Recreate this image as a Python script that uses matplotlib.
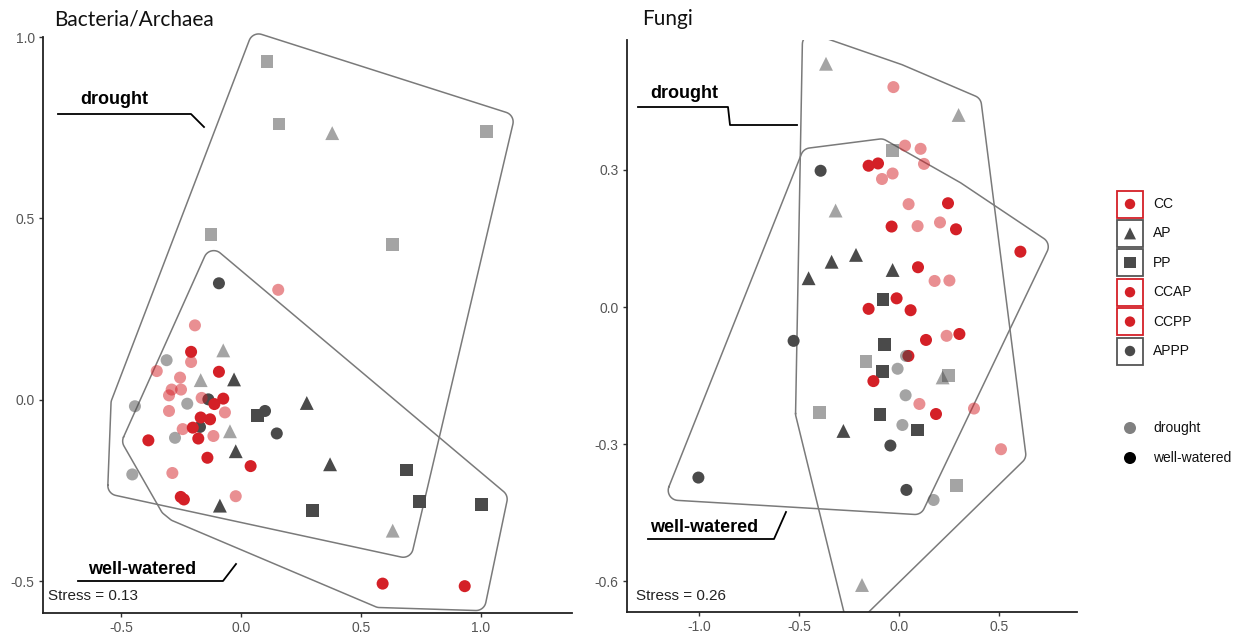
import numpy as np
import matplotlib
matplotlib.use('Agg')
import matplotlib.pyplot as plt
from matplotlib.patches import Rectangle

# NMDS scores, (x, y) per sample
# Bacteria/Archaea
bac_cc_ww = [(-0.208, 0.132), (-0.092, 0.077), (-0.074, 0.003), (-0.111, -0.012), (-0.168, -0.049),
             (-0.129, -0.054), (-0.201, -0.077), (-0.386, -0.112), (-0.178, -0.107), (-0.14, -0.16),
             (0.04, -0.183), (-0.251, -0.268), (-0.238, -0.275), (0.59, -0.507), (0.932, -0.514)]
bac_cc_dr = [(0.155, 0.303), (-0.192, 0.205), (-0.208, 0.104), (-0.351, 0.079), (-0.254, 0.061),
             (-0.289, 0.028), (-0.25, 0.028), (-0.3, 0.012), (-0.164, 0.005), (-0.3, -0.031),
             (-0.067, -0.035), (-0.243, -0.081), (-0.115, -0.1), (-0.286, -0.202), (-0.022, -0.266)]
bac_ap_ww = [(-0.029, 0.056), (0.274, -0.009), (-0.022, -0.142), (0.371, -0.178), (-0.088, -0.292)]
bac_ap_dr = [(0.38, 0.735), (-0.074, 0.136), (-0.168, 0.054), (-0.046, -0.087), (0.632, -0.361)]
bac_pp_ww = [(0.068, -0.043), (0.69, -0.194), (0.743, -0.28), (1.003, -0.289), (0.299, -0.306)]
bac_pp_dr = [(0.108, 0.933), (0.158, 0.76), (1.023, 0.74), (-0.125, 0.455), (0.632, 0.429)]
bac_appp_ww = [(-0.092, 0.321), (-0.136, 0.001), (0.1, -0.031), (-0.171, -0.075), (0.149, -0.093)]
bac_appp_dr = [(-0.31, 0.109), (-0.442, -0.018), (-0.224, -0.011), (-0.275, -0.105), (-0.453, -0.206)]

# Fungi
fun_cc_ww = [(-0.152, 0.309), (-0.105, 0.314), (0.245, 0.227), (-0.037, 0.176), (0.285, 0.17),
             (0.607, 0.121), (0.095, 0.087), (-0.012, 0.019), (-0.152, -0.004), (0.058, -0.007),
             (0.135, -0.072), (0.302, -0.059), (0.047, -0.107), (-0.128, -0.162), (0.185, -0.234)]
fun_cc_dr = [(-0.028, 0.481), (0.03, 0.353), (0.108, 0.346), (0.125, 0.313), (-0.085, 0.28),
             (-0.032, 0.292), (0.048, 0.225), (0.093, 0.177), (0.205, 0.185), (0.178, 0.057),
             (0.252, 0.058), (0.238, -0.063), (0.102, -0.212), (0.375, -0.222), (0.51, -0.311)]
fun_ap_ww = [(-0.215, 0.114), (-0.337, 0.099), (-0.452, 0.063), (-0.032, 0.081), (-0.278, -0.271)]
fun_ap_dr = [(-0.365, 0.532), (0.298, 0.42), (-0.317, 0.211), (0.218, -0.154), (-0.185, -0.608)]
fun_pp_ww = [(-0.08, 0.017), (-0.073, -0.082), (-0.083, -0.141), (-0.095, -0.235), (0.093, -0.269)]
fun_pp_dr = [(-0.033, 0.342), (-0.165, -0.12), (0.247, -0.15), (-0.397, -0.23), (0.287, -0.391)]
fun_appp_ww = [(-0.392, 0.298), (-0.527, -0.074), (-0.043, -0.303), (-1.003, -0.373), (0.037, -0.4)]
fun_appp_dr = [(0.035, -0.107), (-0.007, -0.135), (0.033, -0.193), (0.017, -0.258), (0.173, -0.422)]

legend_labels = ['CC', 'AP', 'PP', 'CCAP', 'CCPP', 'APPP']
legend_kind = ['CC', 'AP', 'PP', 'CC', 'CC', 'APPP']
water_labels = ['drought', 'well-watered']

RED = '#d42027'
DARK = '#4a4a4a'
HULL = '#7a7a7a'
style = {'CC': ('o', RED, 75), 'AP': ('^', DARK, 100), 'PP': ('s', DARK, 85), 'APPP': ('o', DARK, 75)}

plt.rcParams['font.family'] = ['Liberation Sans', 'DejaVu Sans']


def convex_hull(p):
    p = sorted(map(tuple, p))

    def cross(o, a, b):
        return (a[0] - o[0]) * (b[1] - o[1]) - (a[1] - o[1]) * (b[0] - o[0])
    lower, upper = [], []
    for q in p:
        while len(lower) >= 2 and cross(lower[-2], lower[-1], q) <= 0:
            lower.pop()
        lower.append(q)
    for q in reversed(p):
        while len(upper) >= 2 and cross(upper[-2], upper[-1], q) <= 0:
            upper.pop()
        upper.append(q)
    return np.array(lower[:-1] + upper[:-1])


def rounded_hull(ax, pts, expand=24.0, radius=10.0, n_arc=12):
    # hull expanded in pixel space, corners rounded (like geom_mark_hull)
    h = convex_hull(ax.transData.transform(np.asarray(pts)))
    n = len(h)
    normals = []
    for i in range(n):
        d = h[(i + 1) % n] - h[i]
        normals.append(np.array([d[1], -d[0]]) / np.hypot(d[0], d[1]))
    t = expand - radius
    out = []
    for i in range(n):
        n1, n2 = normals[i - 1], normals[i]
        v = h[i] + t * (n1 + n2) / (1 + n1 @ n2)
        a1 = np.arctan2(n1[1], n1[0])
        a2 = np.arctan2(n2[1], n2[0])
        if a2 < a1:
            a2 += 2 * np.pi
        ang = np.linspace(a1, a2, n_arc)
        out.extend(v + radius * np.column_stack([np.cos(ang), np.sin(ang)]))
    out.append(out[0])
    return ax.transData.inverted().transform(np.array(out))


def style_axes(ax, xlim, ylim, xticks, yticks):
    ax.set_xlim(*xlim)
    ax.set_ylim(*ylim)
    ax.set_xticks(xticks)
    ax.set_yticks(yticks)
    ax.set_xticklabels(['%.1f' % v for v in xticks])
    ax.set_yticklabels(['%.1f' % v for v in yticks])
    for s in ['top', 'right']:
        ax.spines[s].set_visible(False)
    for s in ['left', 'bottom']:
        ax.spines[s].set_linewidth(1.3)
        ax.spines[s].set_color('#222222')
    ax.tick_params(direction='out', length=3, width=1, color='#333333',
                   labelcolor='#555555', labelsize=10, pad=3)
    ax.patch.set_alpha(0)


def draw_panel(ax, groups, clip=True):
    ww = [g for g in groups if g[1] == 'well-watered']
    dr = [g for g in groups if g[1] == 'drought']
    for kind, water, pts in ww + dr:
        m, c, s = style[kind]
        a = np.asarray(pts)
        ax.scatter(a[:, 0], a[:, 1], marker=m, s=s, color=c,
                   alpha=1.0 if water == 'well-watered' else 0.5,
                   edgecolors='none', zorder=3, clip_on=False)
    for water in water_labels:
        pts = np.vstack([np.asarray(g[2]) for g in groups if g[1] == water])
        hull = rounded_hull(ax, pts)
        ax.plot(hull[:, 0], hull[:, 1], color=HULL, lw=1.1, zorder=2, clip_on=clip)


W, H = 1242, 639
fig = plt.figure(figsize=(W / 100, H / 100), dpi=100)

ax1 = fig.add_axes([43 / W, 26 / H, 529 / W, 576 / H])
style_axes(ax1, (-0.825, 1.379), (-0.588, 0.999), [-0.5, 0.0, 0.5, 1.0], [-0.5, 0.0, 0.5, 1.0])
ax2 = fig.add_axes([627 / W, 27 / H, 450 / W, 572 / H])
style_axes(ax2, (-1.36, 0.89), (-0.667, 0.584), [-1.0, -0.5, 0.0, 0.5], [-0.6, -0.3, 0.0, 0.3])

draw_panel(ax1, [('APPP', 'well-watered', bac_appp_ww), ('AP', 'well-watered', bac_ap_ww),
                 ('PP', 'well-watered', bac_pp_ww), ('CC', 'well-watered', bac_cc_ww),
                 ('APPP', 'drought', bac_appp_dr), ('AP', 'drought', bac_ap_dr),
                 ('PP', 'drought', bac_pp_dr), ('CC', 'drought', bac_cc_dr)], clip=False)
draw_panel(ax2, [('APPP', 'well-watered', fun_appp_ww), ('AP', 'well-watered', fun_ap_ww),
                 ('PP', 'well-watered', fun_pp_ww), ('CC', 'well-watered', fun_cc_ww),
                 ('APPP', 'drought', fun_appp_dr), ('AP', 'drought', fun_ap_dr),
                 ('PP', 'drought', fun_pp_dr), ('CC', 'drought', fun_cc_dr)], clip=True)

# overlay in pixel coordinates for titles, labels and legend
ov = fig.add_axes([0, 0, 1, 1], zorder=5)
ov.set_xlim(0, W)
ov.set_ylim(H, 0)
ov.axis('off')

ov.text(54, 19, 'Bacteria/Archaea', fontsize=15, family=['Lato', 'DejaVu Sans'],
        ha='left', va='center', color='#111111')
ov.text(642, 19, 'Fungi', fontsize=15, family=['Lato', 'DejaVu Sans'],
        ha='left', va='center', color='#111111')

ov.text(80, 100, 'drought', fontsize=13, weight='bold', ha='left', va='center')
ov.plot([58, 191, 204], [114, 114, 127], color='black', lw=1.3)
ov.text(88, 569, 'well-watered', fontsize=13, weight='bold', ha='left', va='center')
ov.plot([78, 223, 236], [581, 581, 564], color='black', lw=1.3)

ov.text(650, 93, 'drought', fontsize=13, weight='bold', ha='left', va='center')
ov.plot([638, 728, 730, 797], [107, 107, 125, 125], color='black', lw=1.3)
ov.text(650, 528, 'well-watered', fontsize=13, weight='bold', ha='left', va='center')
ov.plot([648, 774, 786], [539, 539, 512], color='black', lw=1.3)

ov.text(48, 596, 'Stress = 0.13', fontsize=11, ha='left', va='center', color='#222222')
ov.text(636, 596, 'Stress = 0.26', fontsize=11, ha='left', va='center', color='#222222')

# treatment legend
for i, (lab, kind) in enumerate(zip(legend_labels, legend_kind)):
    cy = 204 + 29.4 * i
    m, c, s = style[kind]
    ov.add_patch(Rectangle((1117, cy - 13.5), 26, 27, fill=False,
                           edgecolor=RED if c == RED else '#555555', lw=1.3))
    ov.scatter([1130], [cy], marker=m, s=s * 0.75, color=c, edgecolors='none')
    ov.text(1153, cy, lab, fontsize=10, ha='left', va='center', color='#111111')

# water legend
for i, (lab, c) in enumerate(zip(water_labels, ['#808080', '#000000'])):
    cy = 428 + 30 * i
    ov.scatter([1130], [cy], marker='o', s=75, color=c, edgecolors='none')
    ov.text(1153, cy, lab, fontsize=10, ha='left', va='center', color='#111111')

fig.savefig('out.png', dpi=100)
